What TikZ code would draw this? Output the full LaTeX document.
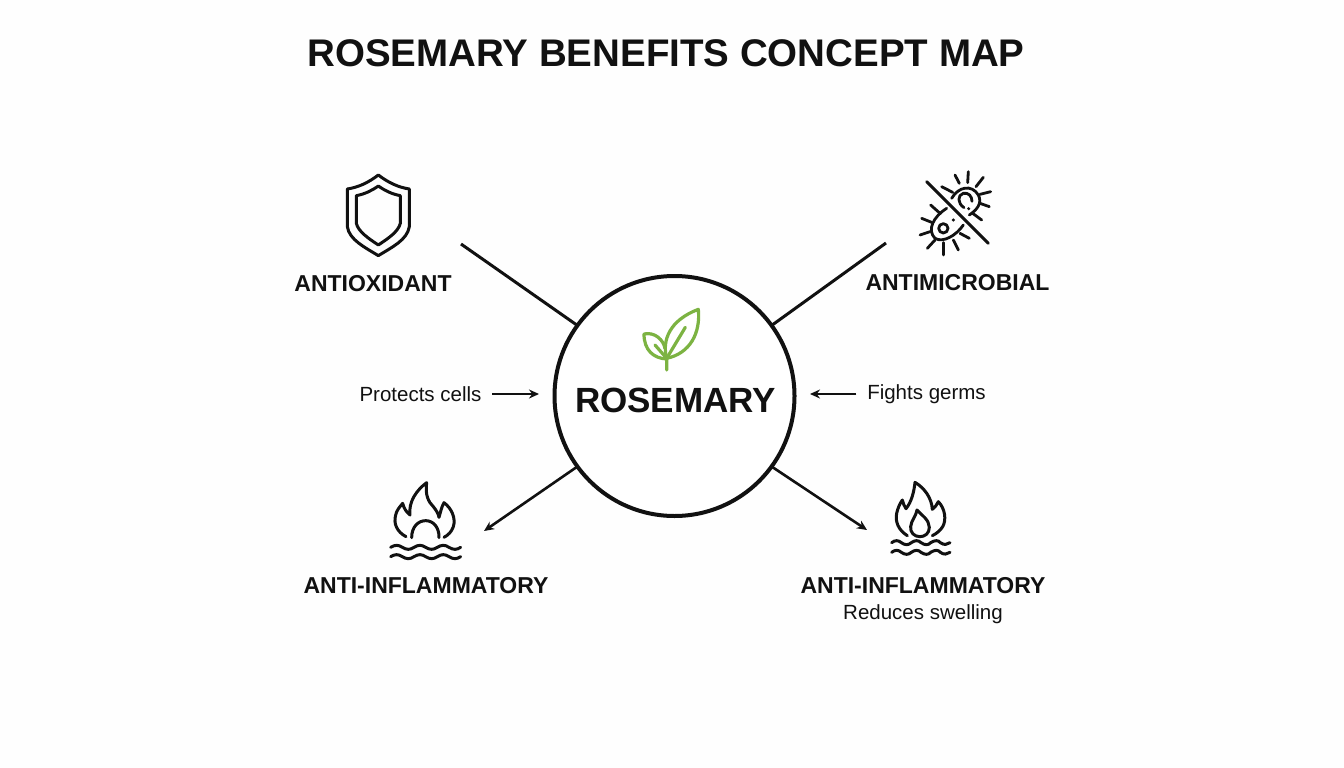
\documentclass[tikz,border=0pt]{standalone}
\usepackage{fontspec}
\setmainfont{Liberation Sans}
\usetikzlibrary{arrows.meta}
\definecolor{ink}{HTML}{111111}
\definecolor{leaf}{HTML}{7CB342}
\definecolor{paper}{HTML}{FEFEFE}
\newcommand{\fsz}[1]{\fontsize{#1}{#1}\selectfont}
\tikzset{
  every node/.style={inner sep=0pt,outer sep=0pt,text=ink},
  titletext/.style={font=\fsz{38.5}\bfseries},
  hubtext/.style={font=\fsz{35}\bfseries},
  headtext/.style={font=\fsz{23}\bfseries},
  smalltext/.style={font=\fsz{20.5}},
  link/.style={draw=ink,line width=3pt},
  arrowlink/.style={draw=ink,line width=2.6pt,-{Stealth[length=10pt,width=9pt]}},
  icon/.style={draw=ink,line width=3pt,line cap=round,line join=round},
  thinicon/.style={icon,line width=2.8pt},
  leaficon/.style={draw=leaf,line width=3.2pt,line cap=round,line join=round},
}
\begin{document}
\begin{tikzpicture}[x=1pt,y=-1pt]
\useasboundingbox[fill=paper] (0,0) rectangle (1344,768);
\node[titletext] (title) at (666,53) {ROSEMARY BENEFITS CONCEPT MAP};
\node[circle,draw=ink,line width=4pt,minimum size=240pt,fill=white] (hub) at (674.5,396) {};
\node[hubtext] (hubname) at (675.5,400) {ROSEMARY};
\node[headtext] (aox) at (373,284) {ANTIOXIDANT};
\node[headtext] (amb) at (957.5,283) {ANTIMICROBIAL};
\node[headtext] (ainf1) at (426,586) {ANTI-INFLAMMATORY};
\node[headtext] (ainf2) at (923,586) {ANTI-INFLAMMATORY};
\node[smalltext] (swell) at (923,614) {Reduces swelling};
\node[smalltext] (prot) at (420.5,394) {Protects cells};
\node[smalltext] (fight) at (926.5,394) {Fights germs};
\coordinate (aoxend) at (461,244);
\coordinate (ambend) at (886,243);
\coordinate (inf1end) at (484,531);
\coordinate (inf2end) at (867,530);
\coordinate (protend) at (539,394);
\coordinate (fightend) at (810,394);
\draw[link] (aoxend) -- (hub.144);
\draw[link] (ambend) -- (hub.36);
\draw[arrowlink] (hub.216) -- (inf1end);
\draw[arrowlink] (hub.-36) -- (inf2end);
\draw[arrowlink] ([xshift=11pt]prot.east) -- (protend);
\draw[arrowlink] ([xshift=-11pt]fight.west) -- (fightend);
% leaf
\begin{scope}[shift={(620,290)},x=0.3333pt,y=-0.3333pt]
\draw[leaficon] (140,205) .. controls (125,150) and (150,90) .. (235,58) .. controls (242,130) and (210,190) .. (140,205);
\draw[leaficon] (140,205) -- (196,112);
\draw[leaficon] (140,207) .. controls (100,205) and (72,180) .. (72,132) .. controls (105,125) and (130,150) .. (135,175);
\draw[leaficon] (105,165) -- (140,205) -- (140,240);
\end{scope}
% shield
\begin{scope}[shift={(320,160)},x=0.3333pt,y=-0.3333pt]
\draw[icon] (175,45) .. controls (205,68) and (235,82) .. (268,87) -- (268,200) .. controls (262,240) and (215,262) .. (175,287) .. controls (135,262) and (88,240) .. (82,200) -- (82,87) .. controls (115,82) and (145,68) .. (175,45) -- cycle;
\draw[icon] (175,78) .. controls (195,92) and (215,102) .. (241,107) -- (241,190) .. controls (235,215) and (205,235) .. (175,255) .. controls (145,235) and (115,215) .. (109,190) -- (109,107) .. controls (135,102) and (155,92) .. (175,78) -- cycle;
\end{scope}
% microbe
\begin{scope}[shift={(900,160)},x=0.3333pt,y=-0.3333pt]
\draw[icon] (80,65) -- (265,250);
\draw[thinicon] (155,115) .. controls (175,80) and (215,72) .. (235,105) .. controls (248,130) and (230,150) .. (208,165);
\draw[thinicon] (192,143) .. controls (172,130) and (172,105) .. (190,100) .. controls (205,97) and (216,108) .. (216,124);
\fill[ink] (206,146) circle[radius=5];
\foreach \a/\b/\c/\d in {165/45/178/70,205/35/203/68,250/52/228/80,272/95/240/103,268/140/240/130,245/180/218/160,125/80/158/97}
  \draw[thinicon] (\a,\b) -- (\c,\d);
\draw[thinicon] (140,145) .. controls (100,170) and (80,210) .. (105,235) .. controls (130,250) and (170,225) .. (190,195);
\draw[thinicon] (130,205) circle[radius=14];
\fill[ink] (160,180) circle[radius=5];
\foreach \a/\b/\c/\d in {92/135/120/160,65/175/95/187,60/225/90/215,82/265/105/240,130/285/130/248,175/270/160/240,208/235/180/220}
  \draw[thinicon] (\a,\b) -- (\c,\d);
\end{scope}
% flame with arc
\begin{scope}[shift={(370,470)},x=0.3333pt,y=-0.3333pt]
\draw[icon] (108,200) .. controls (80,185) and (70,160) .. (77,135) .. controls (80,120) and (90,110) .. (98,100) .. controls (102,115) and (108,125) .. (120,135) .. controls (115,95) and (140,60) .. (170,38) .. controls (165,75) and (175,95) .. (190,110) .. controls (198,120) and (205,130) .. (207,142) .. controls (212,125) and (215,110) .. (222,98) .. controls (245,115) and (258,145) .. (250,170) .. controls (245,185) and (235,195) .. (222,202);
\draw[icon] (125,203) .. controls (125,170) and (145,152) .. (167,152) .. controls (190,152) and (208,172) .. (207,203);
\foreach \yy in {232,260}
  \draw[icon] (62,\yy) .. controls (75,\yy-8) and (85,\yy-8) .. (97,\yy) .. controls (110,\yy+8) and (120,\yy+8) .. (132,\yy) .. controls (145,\yy-8) and (155,\yy-8) .. (167,\yy) .. controls (180,\yy+8) and (190,\yy+8) .. (202,\yy) .. controls (215,\yy-8) and (225,\yy-8) .. (237,\yy) .. controls (250,\yy+8) and (260,\yy+8) .. (272,\yy);
\end{scope}
% flame with drop
\begin{scope}[shift={(870,470)},x=0.3333pt,y=-0.3333pt]
\draw[icon] (112,197) .. controls (85,180) and (75,155) .. (80,130) .. controls (83,115) and (90,100) .. (97,90) .. controls (100,100) and (103,110) .. (108,116) .. controls (125,95) and (132,65) .. (135,37) .. controls (165,55) and (185,85) .. (187,118) .. controls (195,112) and (200,105) .. (205,95) .. controls (225,115) and (230,150) .. (218,170) .. controls (210,183) and (200,190) .. (187,197);
\draw[icon] (141,120) .. controls (155,135) and (178,150) .. (178,172) .. controls (178,190) and (165,200) .. (150,200) .. controls (133,200) and (120,188) .. (122,170) .. controls (124,150) and (138,140) .. (141,120) -- cycle;
\foreach \yy in {218,247}
  \draw[icon] (65,\yy) .. controls (75,\yy-8) and (85,\yy-8) .. (94,\yy) .. controls (105,\yy+8) and (115,\yy+8) .. (124,\yy) .. controls (135,\yy-8) and (145,\yy-8) .. (153,\yy) .. controls (165,\yy+8) and (175,\yy+8) .. (182,\yy) .. controls (195,\yy-8) and (205,\yy-8) .. (211,\yy) .. controls (222,\yy+8) and (232,\yy+6) .. (240,\yy);
\end{scope}
\end{tikzpicture}
\end{document}
